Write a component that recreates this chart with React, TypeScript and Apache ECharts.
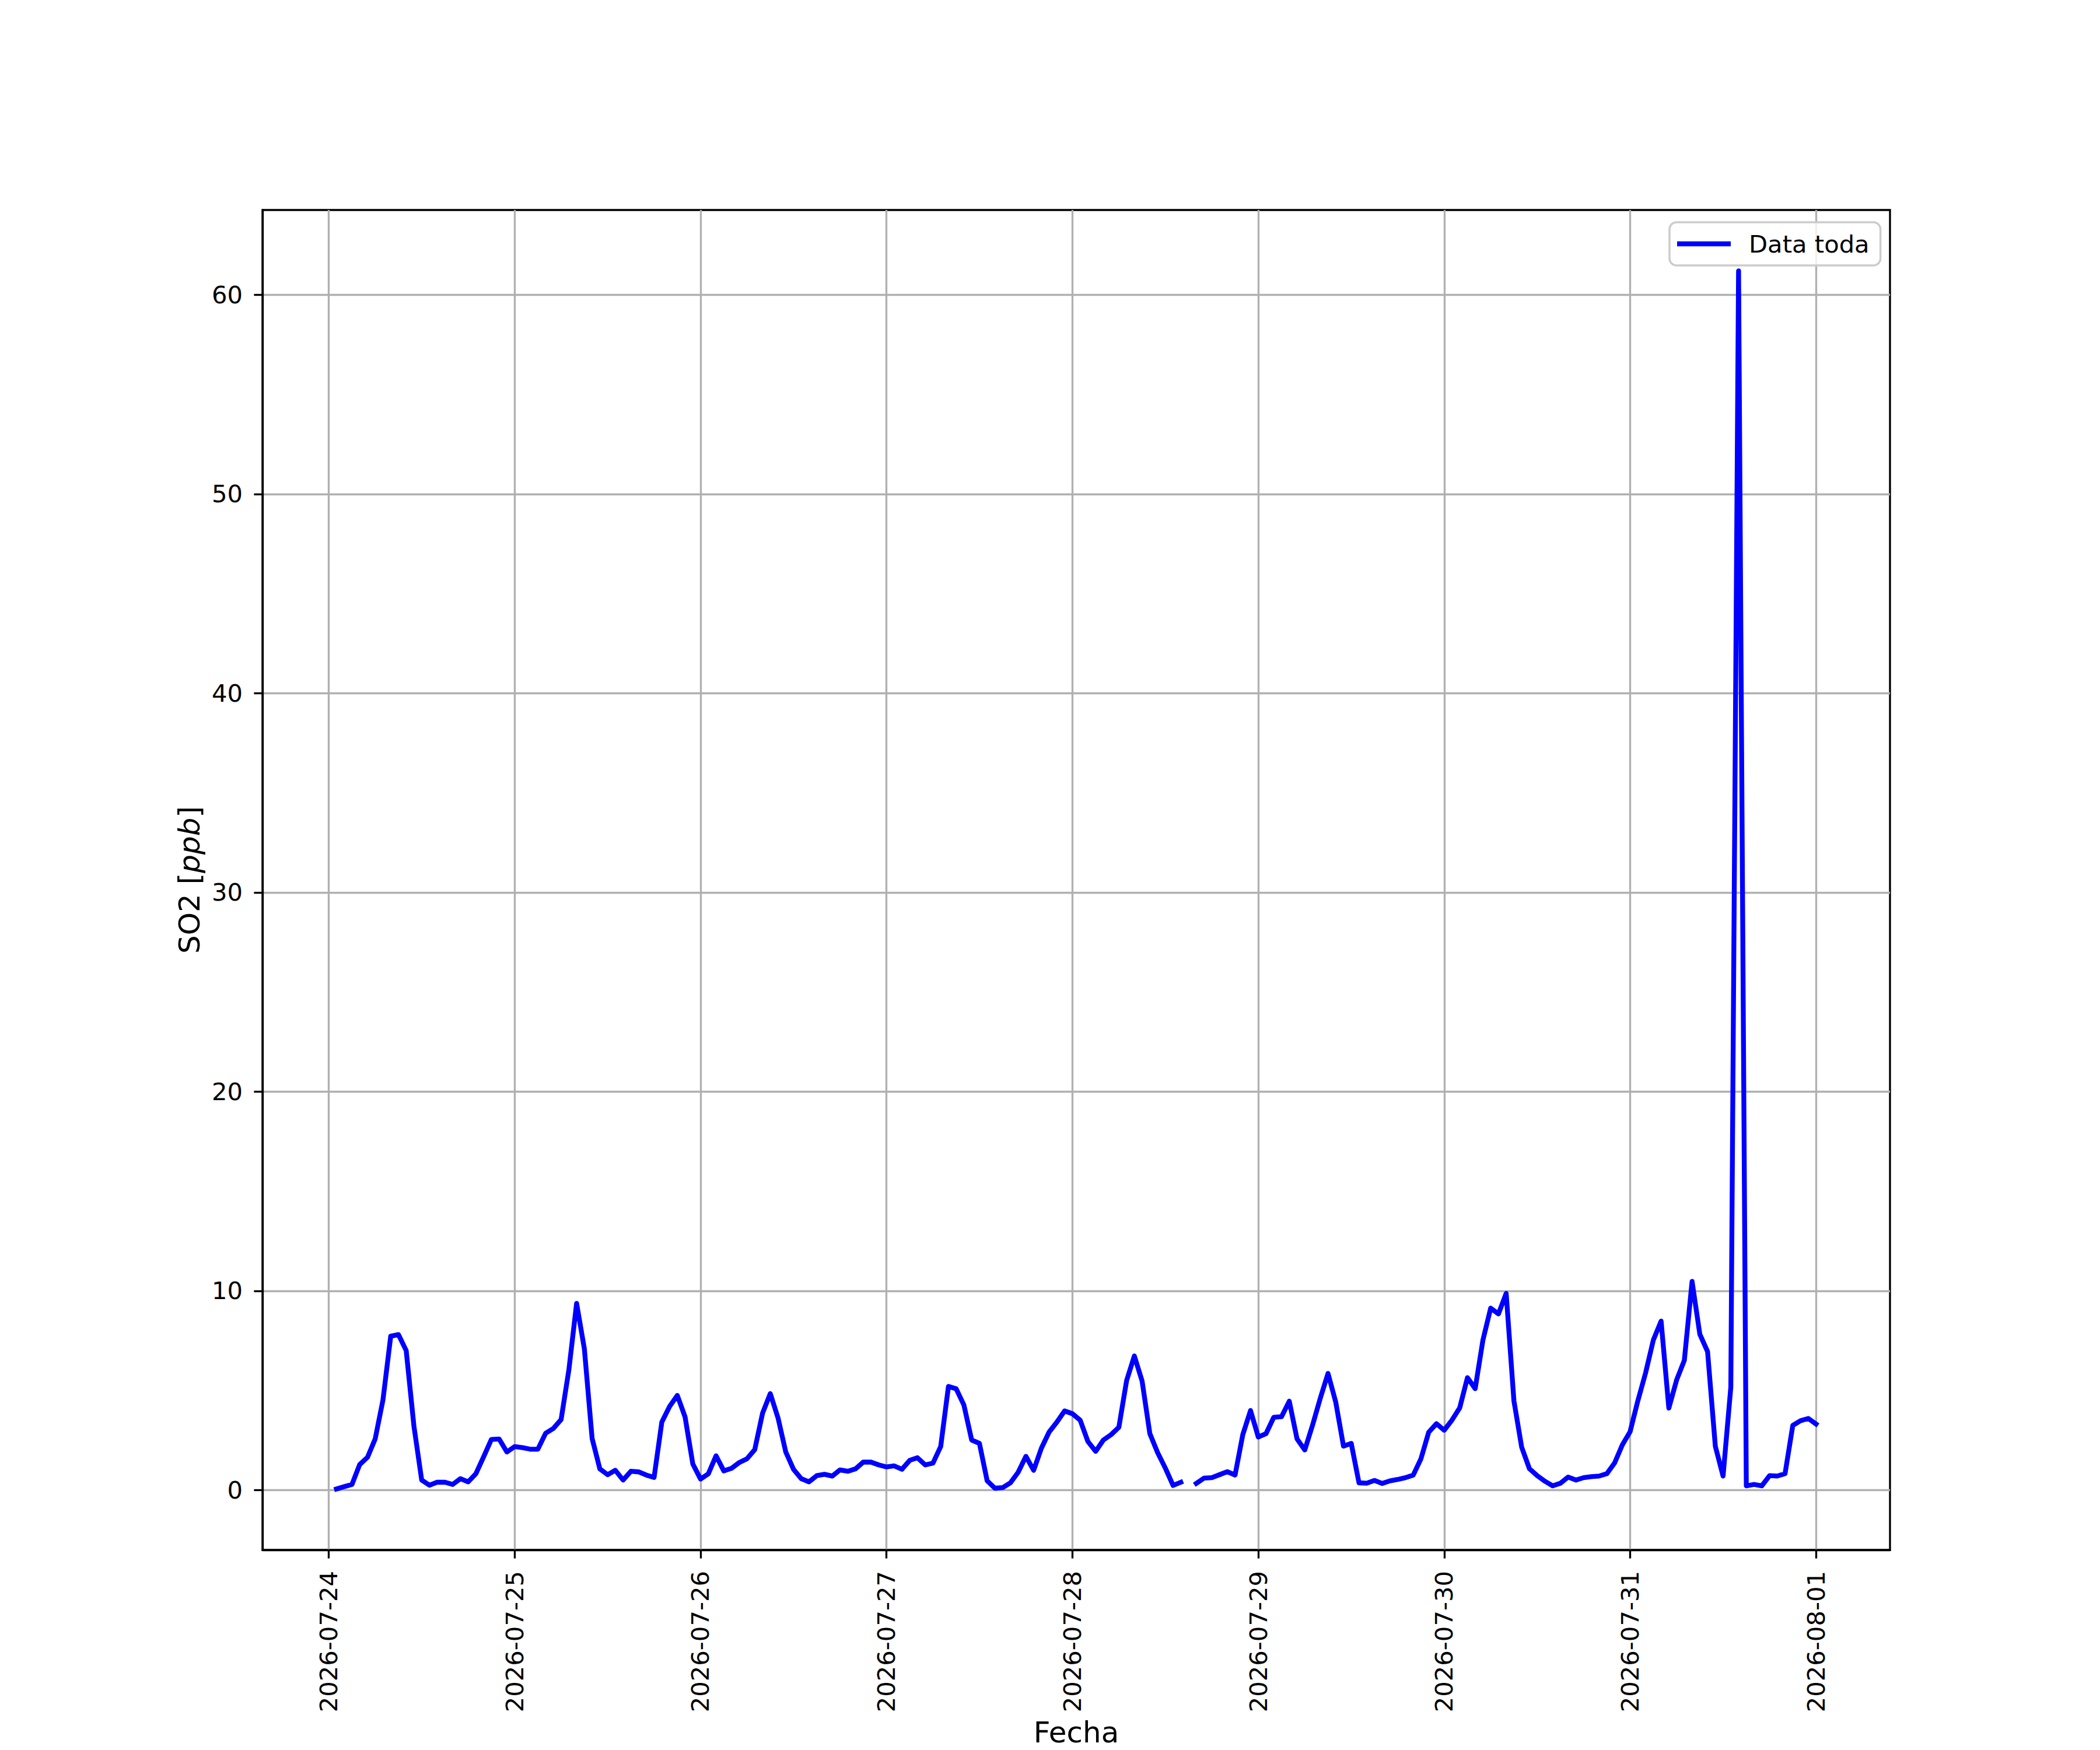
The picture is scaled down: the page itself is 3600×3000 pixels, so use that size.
import React, { useEffect, useRef } from "react";
import * as echarts from "echarts";

// ---- data (hourly SO2 readings, ppb) ----
const startTime = "2026-07-24T01:00:00Z";
const seriesName = "Data toda";

// 2026-07-24, 01:00 .. 23:00
const day0724 = [0.05, 0.17, 0.28, 1.28, 1.64, 2.57, 4.52, 7.72, 7.8, 7.0, 3.2, 0.5, 0.24, 0.39, 0.39, 0.28, 0.57, 0.41, 0.82, 1.67, 2.54, 2.56, 1.91];
// 2026-07-25, 00:00 .. 23:00
const day0725 = [2.18, 2.13, 2.05, 2.05, 2.85, 3.09, 3.54, 6.03, 9.37, 7.09, 2.59, 1.06, 0.77, 0.99, 0.5, 0.94, 0.91, 0.75, 0.63, 3.41, 4.19, 4.75, 3.67, 1.31];
const day0726 = [0.55, 0.81, 1.72, 0.96, 1.09, 1.38, 1.57, 2.03, 3.85, 4.84, 3.62, 1.91, 1.04, 0.57, 0.41, 0.72, 0.79, 0.7, 1.01, 0.94, 1.06, 1.4, 1.4, 1.26];
const day0727 = [1.16, 1.21, 1.04, 1.49, 1.62, 1.26, 1.35, 2.18, 5.2, 5.08, 4.26, 2.51, 2.34, 0.46, 0.09, 0.12, 0.36, 0.89, 1.69, 0.99, 2.1, 2.91, 3.41, 3.97];
const day0728 = [3.83, 3.51, 2.44, 1.94, 2.51, 2.78, 3.15, 5.49, 6.73, 5.47, 2.83, 1.88, 1.1, 0.23, 0.39, null, 0.33, 0.6, 0.62, 0.77, 0.92, 0.75, 2.78, 3.99];
const day0729 = [2.66, 2.83, 3.65, 3.68, 4.46, 2.57, 2.01, 3.25, 4.6, 5.85, 4.41, 2.2, 2.34, 0.36, 0.34, 0.48, 0.33, 0.46, 0.53, 0.62, 0.75, 1.57, 2.9, 3.33];
const day0730 = [3.0, 3.51, 4.12, 5.64, 5.09, 7.53, 9.13, 8.84, 9.87, 4.48, 2.15, 1.07, 0.72, 0.44, 0.21, 0.34, 0.65, 0.5, 0.62, 0.67, 0.7, 0.82, 1.36, 2.27];
const day0731 = [2.93, 4.48, 5.88, 7.53, 8.48, 4.11, 5.52, 6.51, 10.47, 7.82, 6.95, 2.2, 0.7, 5.16, 61.2, 0.21, 0.28, 0.21, 0.72, 0.7, 0.82, 3.24, 3.48, 3.59];
// 2026-08-01, 00:00
const day0801 = [3.31];

const xTickLabels = ["2026-07-24", "2026-07-25", "2026-07-26", "2026-07-27", "2026-07-28", "2026-07-29", "2026-07-30", "2026-07-31", "2026-08-01"];
const yTicks = [0, 10, 20, 30, 40, 50, 60];

const HOUR = 3600 * 1000;
const FONT = "DejaVu Sans";

export default function App() {
  const ref = useRef<HTMLDivElement>(null);

  useEffect(() => {
    if (!ref.current) return;
    const chart = echarts.init(ref.current, null, { renderer: "svg" });

    const values = [...day0724, ...day0725, ...day0726, ...day0727, ...day0728, ...day0729, ...day0730, ...day0731, ...day0801];
    const t0 = Date.parse(startTime);
    const data = values.map((v, i) => [t0 + i * HOUR, v === null ? "-" : v]);

    // matplotlib-like 5% margins
    const tFirst = t0;
    const tLast = t0 + (values.length - 1) * HOUR;
    const xSpan = tLast - tFirst;
    const xMin = tFirst - 0.05 * xSpan;
    const xMax = tLast + 0.05 * xSpan;
    const nums = values.filter((v) => v !== null) as number[];
    const vMin = Math.min(...nums);
    const vMax = Math.max(...nums);
    const ySpan = vMax - vMin;
    const yMin = vMin - 0.05 * ySpan;
    const yMax = vMax + 0.05 * ySpan;

    const xTickValues = xTickLabels.map((s) => Date.parse(s + "T00:00:00Z"));

    const lw = 3.33;

    chart.setOption({
      animation: false,
      backgroundColor: "#ffffff",
      textStyle: { fontFamily: FONT },
      grid: {
        left: 450,
        right: 360,
        top: 360,
        bottom: 330,
        show: true,
        borderColor: "#000000",
        borderWidth: lw,
        backgroundColor: "transparent",
        containLabel: false,
      },
      legend: {
        show: true,
        data: [{ name: seriesName, icon: "rect" }],
        left: 2862,
        top: 381,
        orient: "horizontal",
        itemWidth: 92,
        itemHeight: 8.5,
        itemGap: 0,
        padding: [12, 19, 12, 13],
        backgroundColor: "rgba(255,255,255,0.8)",
        borderColor: "#cccccc",
        borderWidth: 3.5,
        borderRadius: 12,
        itemStyle: { color: "#0000ff", borderWidth: 0 },
        textStyle: {
          fontSize: 41.7,
          fontFamily: FONT,
          color: "#000000",
          lineHeight: 50,
          padding: [0, 0, 0, 26],
        },
      },
      xAxis: {
        type: "value",
        min: xMin,
        max: xMax,
        name: "Fecha",
        nameLocation: "middle",
        nameGap: 288,
        nameTextStyle: { fontSize: 50, fontFamily: FONT, color: "#000000", verticalAlign: "top" },
        axisLine: { show: true, onZero: false, lineStyle: { color: "#000000", width: lw } },
        axisTick: {
          show: true,
          inside: false,
          length: 14.6,
          customValues: xTickValues,
          lineStyle: { color: "#000000", width: lw },
        },
        axisLabel: {
          show: true,
          customValues: xTickValues,
          rotate: 90,
          margin: 36,
          fontSize: 41.7,
          fontFamily: FONT,
          color: "#000000",
          formatter: (v: number) => {
            const idx = xTickValues.indexOf(v);
            return idx >= 0 ? xTickLabels[idx] : new Date(v).toISOString().slice(0, 10);
          },
        },
        splitLine: { show: true, lineStyle: { color: "#b0b0b0", width: lw } },
      },
      yAxis: {
        type: "value",
        min: yMin,
        max: yMax,
        name: "SO2 [{i|ppb}]",
        nameLocation: "middle",
        nameRotate: 90,
        nameGap: 100,
        nameTextStyle: {
          fontSize: 50,
          fontFamily: FONT,
          color: "#000000",
          rich: { i: { fontSize: 50, fontFamily: FONT, fontStyle: "italic", color: "#000000" } },
        },
        axisLine: { show: true, onZero: false, lineStyle: { color: "#000000", width: lw } },
        axisTick: {
          show: true,
          inside: false,
          length: 14.6,
          customValues: yTicks,
          lineStyle: { color: "#000000", width: lw },
        },
        axisLabel: {
          show: true,
          customValues: yTicks,
          margin: 34,
          fontSize: 41.7,
          fontFamily: FONT,
          color: "#000000",
          formatter: (v: number) => String(v),
        },
        splitLine: { show: true, lineStyle: { color: "#b0b0b0", width: lw } },
      },
      series: [
        {
          type: "line",
          name: seriesName,
          data,
          symbol: "none",
          showSymbol: false,
          connectNulls: false,
          clip: true,
          z: 3,
          itemStyle: { color: "#0000ff" },
          lineStyle: { color: "#0000ff", width: 8.33, cap: "square", join: "round" },
        },
      ],
    });

    return () => chart.dispose();
  }, []);

  return (
    <div
      ref={ref}
      style={{ position: "absolute", left: 0, top: 0, width: 3600, height: 3000, background: "#ffffff" }}
    />
  );
}
